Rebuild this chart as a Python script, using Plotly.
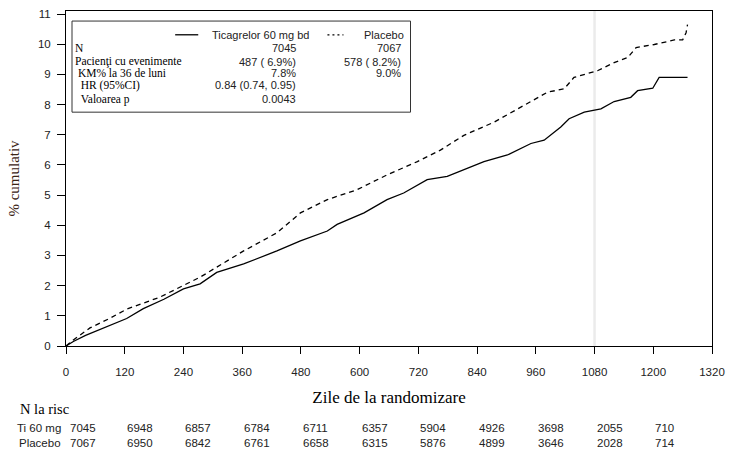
import plotly.graph_objects as go

# Kaplan-Meier cumulative %
tica_days = [0, 15, 40, 76, 124, 158, 200, 240, 274, 308, 363, 431, 479, 534, 554, 609, 656,
             690, 738, 779, 854, 902, 950, 977, 1011, 1028, 1059, 1093, 1120, 1154, 1168,
             1199, 1212, 1270]
tica_pct = [0, 0.15, 0.35, 0.58, 0.91, 1.24, 1.55, 1.89, 2.06, 2.44, 2.72, 3.15, 3.48, 3.81,
            4.03, 4.41, 4.85, 5.07, 5.51, 5.62, 6.11, 6.33, 6.71, 6.82, 7.26, 7.53, 7.75,
            7.86, 8.10, 8.24, 8.46, 8.54, 8.90, 8.90]

plac_days = [0, 15, 49, 90, 124, 192, 274, 363, 431, 479, 534, 595, 656, 718, 765, 813, 875,
             929, 984, 1018, 1038, 1086, 1120, 1148, 1165, 1202, 1243, 1260, 1267, 1270]
plac_pct = [0, 0.2, 0.6, 0.92, 1.22, 1.62, 2.28, 3.15, 3.75, 4.41, 4.85, 5.18, 5.67, 6.11,
            6.49, 6.98, 7.42, 7.91, 8.41, 8.52, 8.90, 9.12, 9.39, 9.56, 9.89, 9.99, 10.14,
            10.14, 10.38, 10.65]

# legend table
series_names = ["Ticagrelor 60 mg bd", "Placebo"]
stat_labels = ["N", "Pacienţi cu evenimente", "\u00a0KM% la 36 de luni", "\u00a0\u00a0HR (95%CI)",
               "\u00a0\u00a0Valoarea p"]
stat_tica = ["7045", "487 ( 6.9%)", "7.8%", "0.84 (0.74, 0.95)", "0.0043"]
stat_plac = ["7067", "578 ( 8.2%)", "9.0%", "", ""]

# number at risk
risk_days = [0, 120, 240, 360, 480, 600, 720, 840, 960, 1080, 1200]
risk_tica = [7045, 6948, 6857, 6784, 6711, 6357, 5904, 4926, 3698, 2055, 710]
risk_plac = [7067, 6950, 6842, 6761, 6658, 6315, 5876, 4899, 3646, 2028, 714]

serif = "Liberation Serif, Times New Roman, serif"
sans = "Liberation Sans, Arial, sans-serif"

fig = go.Figure()
fig.add_trace(go.Scatter(x=tica_days, y=tica_pct, mode="lines",
                         line=dict(color="black", width=1.3), showlegend=False))
fig.add_trace(go.Scatter(x=plac_days, y=plac_pct, mode="lines",
                         line=dict(color="black", width=1.3, dash="5px,4px"), showlegend=False))

# light reference line at 36 months
fig.add_vline(x=1080, line=dict(color="#ebebeb", width=2.5), layer="below")

# legend box
fig.add_shape(type="rect", xref="paper", yref="paper", x0=0.0093, x1=0.5333, y0=0.698, y1=0.970,
              line=dict(color="#333", width=1), fillcolor="white")
fig.add_shape(type="line", xref="paper", yref="paper", x0=0.169, x1=0.2047, y0=0.929, y1=0.929,
              line=dict(color="black", width=1.3))
fig.add_shape(type="line", xref="paper", yref="paper", x0=0.4047, x1=0.4295, y0=0.929, y1=0.929,
              line=dict(color="black", width=1.3, dash="2px,3px"))

ann = []
ann.append(dict(x=0.2233, y=0.929, text=series_names[0], xanchor="left"))
ann.append(dict(x=0.5256, y=0.929, text=series_names[1], xanchor="right"))
row_y = [0.8905, 0.849, 0.815, 0.779, 0.736]
for i, lab in enumerate(stat_labels):
    ann.append(dict(x=0.0109, y=row_y[i], text=lab, xanchor="left",
                    font=dict(family=serif, size=11.5, color="black")))
    ann.append(dict(x=0.3597, y=row_y[i], text=stat_tica[i], xanchor="right"))
    if stat_plac[i]:
        ann.append(dict(x=0.5209, y=row_y[i], text=stat_plac[i], xanchor="right"))
for a in ann:
    a.setdefault("font", dict(family=sans, size=11, color="#222"))
    fig.add_annotation(xref="paper", yref="paper", yanchor="middle", showarrow=False, **a)

# number at risk table
fig.add_annotation(xref="paper", yref="paper", x=-0.0744, y=-0.189, text="N la risc",
                   xanchor="left", yanchor="middle", showarrow=False,
                   font=dict(family=serif, size=14.5, color="black"))
for name, vals, yy in [("Ti 60 mg", risk_tica, -0.2456), ("Placebo", risk_plac, -0.290)]:
    fig.add_annotation(xref="paper", yref="paper", x=-0.004, y=yy, text=name,
                       xanchor="right", yanchor="middle", showarrow=False,
                       font=dict(family=sans, size=11.5, color="#222"))
    for d, v in zip(risk_days, vals):
        fig.add_annotation(xref="x", yref="paper", x=d, y=yy, text=str(v),
                           xanchor="left", yanchor="middle", showarrow=False,
                           xshift=2 if d == 0 else 0,
                           font=dict(family=sans, size=11.5, color="#222"))

fig.update_layout(
    width=737, height=454,
    margin=dict(l=66, r=25, t=8, b=108),
    paper_bgcolor="white", plot_bgcolor="white",
    xaxis=dict(range=[0, 1320], tickvals=list(range(0, 1321, 120)), showgrid=False,
               zeroline=False, showline=True, linecolor="black", linewidth=1, mirror=True,
               ticks="outside", ticklen=7, tickcolor="black", ticklabelstandoff=8,
               tickfont=dict(family=sans, size=11.5, color="#222"),
               title=dict(text="Zile de la randomizare", standoff=14,
                          font=dict(family=serif, size=17, color="black"))),
    yaxis=dict(range=[0, 11.1], tickvals=list(range(0, 12)), showgrid=False,
               zeroline=False, showline=True, linecolor="black", linewidth=1, mirror=True,
               ticks="outside", ticklen=8, tickcolor="black", ticklabelstandoff=4,
               tickfont=dict(family=sans, size=11.5, color="#222"),
               title=dict(text="% cumulativ", standoff=14,
                          font=dict(family=serif, size=15, color="#3b2314"))),
)

# page body has a default margin; drop it so the figure fills the window
fig.write_html("out.html", config={"displayModeBar": False},
               post_script="document.body.style.margin='0';")
